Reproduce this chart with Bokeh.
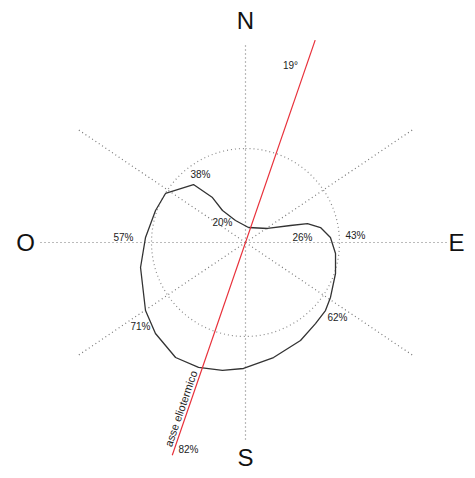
import numpy as np
from bokeh.plotting import figure
from bokeh.models import Range1d
from bokeh.core.properties import value
from bokeh.embed import file_html
from bokeh.resources import INLINE

# --- data (azimuth in degrees clockwise from north, radius in chart units) ---
curve_az = [11.3, 57.5, 69.3, 73.0, 78.7, 86.6, 97.0, 109.0, 122.9, 130.4, 139.2,
            150.7, 166.3, 180.9, 190.2, 200.6, 211.3, 224.7, 235.8, 256.6, 272.9,
            289.6, 301.5, 318.1, 323.7, 324.3, 335.6]
curve_r = [15.3, 26.1, 48.1, 64.8, 76.5, 85.1, 90.7, 95.2, 101.2, 105.0, 107.1,
           112.4, 118.4, 126.0, 130.0, 133.5, 134.6, 128.0, 120.9, 107.9, 100.1,
           95.5, 93.8, 77.9, 55.8, 39.4, 24.2]

compass_labels = ["N", "E", "S", "O"]
compass_az = [0, 90, 180, 270]
compass_r = [222, 211, 215, 220]

pct_labels = ["38%", "20%", "26%", "43%", "57%", "71%", "62%", "82%"]
pct_dx = [-45, -23, 57, 110, -122, -105, 92, -57]
pct_dy = [68, 20, 5, 7, 5, -84, -75, -207]

guide_az = [0, 56, 90, 124, 180, 236, 270, 304]
guide_len = [200, 203, 204, 203, 200, 203, 205, 203]
ring_radius = 94

axis_az = 19.0          # asse eliotermico
axis_len_top = 214
axis_len_bottom = 225
axis_angle_label = "19°"
axis_name = "asse eliotermico"


def to_xy(az, r):
    a = np.radians(np.asarray(az, dtype=float))
    r = np.asarray(r, dtype=float)
    return r * np.sin(a), r * np.cos(a)


W, H = 467, 470
p = figure(width=W, height=H, output_backend="svg", toolbar_location=None,
           x_range=Range1d(-245, W - 245), y_range=Range1d(242 - H, 242),
           min_border=0, outline_line_color=None)
p.axis.visible = False
p.grid.visible = False
p.background_fill_color = "white"
p.border_fill_color = "white"

# guide lines
gx, gy = to_xy(guide_az, guide_len)
p.segment(x0=[0] * len(gx), y0=[0] * len(gy), x1=gx, y1=gy,
          line_color="#777777", line_width=1.2, line_dash="1 3")
# dotted ring
th = np.linspace(0, 360, 181)
rx, ry = to_xy(th, [ring_radius] * len(th))
p.line(rx, ry, line_color="#888888", line_width=1.2, line_dash="1 3")

# curve
cx, cy = to_xy(curve_az + [curve_az[0]], curve_r + [curve_r[0]])
p.line(cx, cy, line_color="#333333", line_width=1.3)

# heliothermic axis
tx, ty = to_xy([axis_az], [axis_len_top])
bx, by = to_xy([axis_az + 180], [axis_len_bottom])
p.segment(x0=bx, y0=by, x1=tx, y1=ty, line_color="#e8303a", line_width=1.2)

# compass letters
lx, ly = to_xy(compass_az, compass_r)
p.text(x=lx, y=ly, text=compass_labels, text_align="center", text_baseline="middle",
       text_font=value("Liberation Sans"), text_font_size="24px", text_color="#111111")

# percentage labels
p.text(x=pct_dx, y=pct_dy, text=pct_labels, text_align="center", text_baseline="middle",
       text_font=value("Liberation Sans"), text_font_size="10px", text_color="#222222")

# angle label
p.text(x=[45], y=[177], text=[axis_angle_label], text_align="center", text_baseline="middle",
       text_font=value("Liberation Sans"), text_font_size="10px", text_color="#222222")

# axis name along the red line
nx, ny = to_xy([axis_az + 180], [178])
perp = np.radians(axis_az)
p.text(x=nx - 7 * np.cos(perp), y=ny + 7 * np.sin(perp), text=[axis_name],
       angle=np.radians(90 - axis_az), text_align="center", text_baseline="middle",
       text_font=value("Liberation Sans"), text_font_size="11px", text_color="#222222")

open("out.html", "w").write(file_html(p, INLINE))
